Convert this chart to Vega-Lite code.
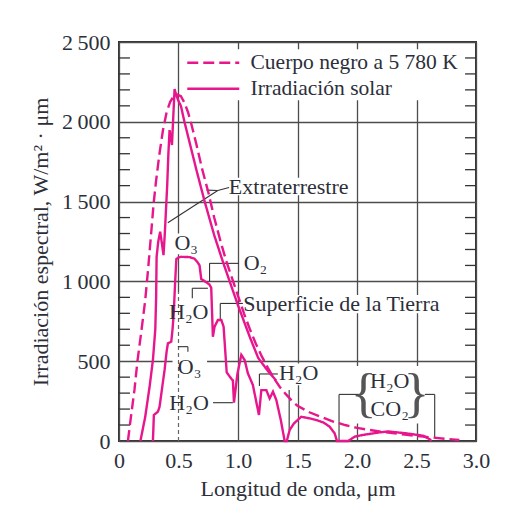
{
  "$schema": "https://vega.github.io/schema/vega-lite/v6.json",
  "width": 357,
  "height": 399,
  "autosize": {"type": "none"},
  "padding": {"left": 119, "top": 42, "right": 36, "bottom": 65},
  "background": "white",
  "config": {
    "view": {"stroke": "#333333", "strokeWidth": 2},
    "font": "Liberation Serif",
    "axis": {
      "labelFont": "Liberation Serif", "titleFont": "Liberation Serif",
      "labelFontSize": 22, "titleFontSize": 22,
      "labelColor": "#2c2f3a", "titleColor": "#2c2f3a", "titleFontWeight": "normal",
      "domain": false, "ticks": false, "labelFlush": false,
      "gridColor": "#4d4d4d", "gridWidth": 1.3, "gridOpacity": 1
    },
    "legend": {
      "orient": "none", "legendX": 60, "legendY": 6,
      "padding": 4, "labelLimit": 400,
      "labelFont": "Liberation Serif", "labelFontSize": 21.5, "labelColor": "#2c2f3a",
      "symbolType": "M-1,0H7", "symbolSize": 169, "symbolStrokeWidth": 2.5,
      "symbolStrokeColor": "#e8168c", "labelOffset": 46, "rowPadding": 3
    }
  },
  "datasets": {
    "minor": [
      {"y": 100}, {"y": 200}, {"y": 300}, {"y": 400}, {"y": 600}, {"y": 700}, {"y": 800}, {"y": 900},
      {"y": 1100}, {"y": 1200}, {"y": 1300}, {"y": 1400}, {"y": 1600}, {"y": 1700}, {"y": 1800}, {"y": 1900},
      {"y": 2100}, {"y": 2200}, {"y": 2300}, {"y": 2400}
    ],
    "boxes": [
      {"x": 0.54, "x2": 2.88, "y": 2135, "y2": 2455},
      {"x": 0.915, "x2": 1.94, "y": 1540, "y2": 1650},
      {"x": 1.04, "x2": 2.7, "y": 800, "y2": 915},
      {"x": 1.33, "x2": 1.7, "y": 350, "y2": 485},
      {"x": 1.99, "x2": 2.62, "y": 110, "y2": 470},
      {"x": 0.45, "x2": 0.74, "y": 375, "y2": 535},
      {"x": 0.4, "x2": 0.78, "y": 745, "y2": 870},
      {"x": 0.4, "x2": 0.78, "y": 175, "y2": 290},
      {"x": 0.45, "x2": 0.68, "y": 1170, "y2": 1300}
    ],
    "leaders": [
      {"x": 0.925, "y": 1588, "x2": 0.83, "y2": 1570},
      {"x": 0.83, "y": 1570, "x2": 0.735, "y2": 1572},
      {"x": 0.83, "y": 1570, "x2": 0.41, "y2": 1367},
      {"x": 0.761, "y": 1000, "x2": 0.761, "y2": 1113},
      {"x": 0.761, "y": 1113, "x2": 1.008, "y2": 1113},
      {"x": 0.616, "y": 894, "x2": 0.616, "y2": 957},
      {"x": 0.616, "y": 957, "x2": 0.747, "y2": 957},
      {"x": 0.851, "y": 758, "x2": 0.851, "y2": 862},
      {"x": 0.851, "y": 862, "x2": 1.041, "y2": 862},
      {"x": 0.495, "y": 591, "x2": 0.579, "y2": 591},
      {"x": 0.579, "y": 591, "x2": 0.579, "y2": 559},
      {"x": 0.79, "y": 240, "x2": 0.957, "y2": 240},
      {"x": 1.18, "y": 345, "x2": 1.18, "y2": 420},
      {"x": 1.18, "y": 420, "x2": 1.335, "y2": 420},
      {"x": 1.43, "y": 69, "x2": 1.43, "y2": 320},
      {"x": 1.849, "y": 0, "x2": 1.849, "y2": 292},
      {"x": 1.849, "y": 292, "x2": 2.035, "y2": 292},
      {"x": 2.57, "y": 292, "x2": 2.653, "y2": 292},
      {"x": 2.653, "y": 292, "x2": 2.653, "y2": 19}
    ],
    "labels": [
      {"x": 1.426, "y": 1591, "t": "Extraterrestre"},
      {"x": 0.565, "y": 1243, "t": "O₃"},
      {"x": 1.147, "y": 1118, "t": "O₂"},
      {"x": 0.586, "y": 810, "t": "H₂O"},
      {"x": 1.869, "y": 858, "t": "Superficie de la Tierra"},
      {"x": 0.593, "y": 465, "t": "O₃"},
      {"x": 0.589, "y": 235, "t": "H₂O"},
      {"x": 1.51, "y": 424, "t": "H₂O"},
      {"x": 2.275, "y": 377, "t": "H₂O"},
      {"x": 2.275, "y": 199, "t": "CO₂"}
    ],
    "braces": [
      {"x": 2.056, "y": 288, "t": "{"},
      {"x": 2.5, "y": 288, "t": "}"}
    ],
    "curves": [
      {"s": "bb", "t": "Cuerpo negro a 5 780 K", "x": 0.075, "y": 0},
      {"s": "bb", "t": "Cuerpo negro a 5 780 K", "x": 0.1, "y": 150},
      {"s": "bb", "t": "Cuerpo negro a 5 780 K", "x": 0.13, "y": 320},
      {"s": "bb", "t": "Cuerpo negro a 5 780 K", "x": 0.155, "y": 500},
      {"s": "bb", "t": "Cuerpo negro a 5 780 K", "x": 0.19, "y": 700},
      {"s": "bb", "t": "Cuerpo negro a 5 780 K", "x": 0.22, "y": 880},
      {"s": "bb", "t": "Cuerpo negro a 5 780 K", "x": 0.245, "y": 1080},
      {"s": "bb", "t": "Cuerpo negro a 5 780 K", "x": 0.27, "y": 1300},
      {"s": "bb", "t": "Cuerpo negro a 5 780 K", "x": 0.29, "y": 1480},
      {"s": "bb", "t": "Cuerpo negro a 5 780 K", "x": 0.31, "y": 1620},
      {"s": "bb", "t": "Cuerpo negro a 5 780 K", "x": 0.34, "y": 1800},
      {"s": "bb", "t": "Cuerpo negro a 5 780 K", "x": 0.37, "y": 1950},
      {"s": "bb", "t": "Cuerpo negro a 5 780 K", "x": 0.4, "y": 2060},
      {"s": "bb", "t": "Cuerpo negro a 5 780 K", "x": 0.43, "y": 2125},
      {"s": "bb", "t": "Cuerpo negro a 5 780 K", "x": 0.46, "y": 2160},
      {"s": "bb", "t": "Cuerpo negro a 5 780 K", "x": 0.49, "y": 2170},
      {"s": "bb", "t": "Cuerpo negro a 5 780 K", "x": 0.52, "y": 2160},
      {"s": "bb", "t": "Cuerpo negro a 5 780 K", "x": 0.55, "y": 2120},
      {"s": "bb", "t": "Cuerpo negro a 5 780 K", "x": 0.58, "y": 2060},
      {"s": "bb", "t": "Cuerpo negro a 5 780 K", "x": 0.61, "y": 1980},
      {"s": "bb", "t": "Cuerpo negro a 5 780 K", "x": 0.65, "y": 1860},
      {"s": "bb", "t": "Cuerpo negro a 5 780 K", "x": 0.7, "y": 1700},
      {"s": "bb", "t": "Cuerpo negro a 5 780 K", "x": 0.75, "y": 1560},
      {"s": "bb", "t": "Cuerpo negro a 5 780 K", "x": 0.8, "y": 1400},
      {"s": "bb", "t": "Cuerpo negro a 5 780 K", "x": 0.85, "y": 1260},
      {"s": "bb", "t": "Cuerpo negro a 5 780 K", "x": 0.9, "y": 1130},
      {"s": "bb", "t": "Cuerpo negro a 5 780 K", "x": 0.95, "y": 1020},
      {"s": "bb", "t": "Cuerpo negro a 5 780 K", "x": 1.0, "y": 910},
      {"s": "bb", "t": "Cuerpo negro a 5 780 K", "x": 1.05, "y": 800},
      {"s": "bb", "t": "Cuerpo negro a 5 780 K", "x": 1.1, "y": 700},
      {"s": "bb", "t": "Cuerpo negro a 5 780 K", "x": 1.15, "y": 610},
      {"s": "bb", "t": "Cuerpo negro a 5 780 K", "x": 1.2, "y": 530},
      {"s": "bb", "t": "Cuerpo negro a 5 780 K", "x": 1.25, "y": 460},
      {"s": "bb", "t": "Cuerpo negro a 5 780 K", "x": 1.3, "y": 395},
      {"s": "bb", "t": "Cuerpo negro a 5 780 K", "x": 1.35, "y": 340},
      {"s": "bb", "t": "Cuerpo negro a 5 780 K", "x": 1.4, "y": 295},
      {"s": "bb", "t": "Cuerpo negro a 5 780 K", "x": 1.45, "y": 255},
      {"s": "bb", "t": "Cuerpo negro a 5 780 K", "x": 1.5, "y": 220},
      {"s": "bb", "t": "Cuerpo negro a 5 780 K", "x": 1.6, "y": 180},
      {"s": "bb", "t": "Cuerpo negro a 5 780 K", "x": 1.7, "y": 150},
      {"s": "bb", "t": "Cuerpo negro a 5 780 K", "x": 1.8, "y": 122},
      {"s": "bb", "t": "Cuerpo negro a 5 780 K", "x": 1.9, "y": 100},
      {"s": "bb", "t": "Cuerpo negro a 5 780 K", "x": 2.0, "y": 82},
      {"s": "bb", "t": "Cuerpo negro a 5 780 K", "x": 2.2, "y": 58},
      {"s": "bb", "t": "Cuerpo negro a 5 780 K", "x": 2.4, "y": 40},
      {"s": "bb", "t": "Cuerpo negro a 5 780 K", "x": 2.6, "y": 24},
      {"s": "bb", "t": "Cuerpo negro a 5 780 K", "x": 2.8, "y": 10},
      {"s": "bb", "t": "Cuerpo negro a 5 780 K", "x": 2.86, "y": 6},

      {"s": "ext", "t": "Irradiación solar", "x": 0.18, "y": 0},
      {"s": "ext", "t": "Irradiación solar", "x": 0.22, "y": 150},
      {"s": "ext", "t": "Irradiación solar", "x": 0.257, "y": 340},
      {"s": "ext", "t": "Irradiación solar", "x": 0.285, "y": 507},
      {"s": "ext", "t": "Irradiación solar", "x": 0.305, "y": 700},
      {"s": "ext", "t": "Irradiación solar", "x": 0.312, "y": 900},
      {"s": "ext", "t": "Irradiación solar", "x": 0.316, "y": 1154},
      {"s": "ext", "t": "Irradiación solar", "x": 0.33, "y": 1250},
      {"s": "ext", "t": "Irradiación solar", "x": 0.346, "y": 1311},
      {"s": "ext", "t": "Irradiación solar", "x": 0.362, "y": 1230},
      {"s": "ext", "t": "Irradiación solar", "x": 0.374, "y": 1165},
      {"s": "ext", "t": "Irradiación solar", "x": 0.385, "y": 1300},
      {"s": "ext", "t": "Irradiación solar", "x": 0.395, "y": 1450},
      {"s": "ext", "t": "Irradiación solar", "x": 0.405, "y": 1600},
      {"s": "ext", "t": "Irradiación solar", "x": 0.415, "y": 1800},
      {"s": "ext", "t": "Irradiación solar", "x": 0.425, "y": 1948},
      {"s": "ext", "t": "Irradiación solar", "x": 0.445, "y": 1855},
      {"s": "ext", "t": "Irradiación solar", "x": 0.467, "y": 2205},
      {"s": "ext", "t": "Irradiación solar", "x": 0.48, "y": 2170},
      {"s": "ext", "t": "Irradiación solar", "x": 0.5, "y": 2130},
      {"s": "ext", "t": "Irradiación solar", "x": 0.52, "y": 2100},
      {"s": "ext", "t": "Irradiación solar", "x": 0.55, "y": 2000},
      {"s": "ext", "t": "Irradiación solar", "x": 0.6, "y": 1850},
      {"s": "ext", "t": "Irradiación solar", "x": 0.65, "y": 1700},
      {"s": "ext", "t": "Irradiación solar", "x": 0.72, "y": 1500},
      {"s": "ext", "t": "Irradiación solar", "x": 0.8, "y": 1290},
      {"s": "ext", "t": "Irradiación solar", "x": 0.87, "y": 1130},
      {"s": "ext", "t": "Irradiación solar", "x": 0.93, "y": 1000},
      {"s": "ext", "t": "Irradiación solar", "x": 1.0, "y": 850},
      {"s": "ext", "t": "Irradiación solar", "x": 1.1, "y": 650},
      {"s": "ext", "t": "Irradiación solar", "x": 1.17, "y": 520},
      {"s": "ext", "t": "Irradiación solar", "x": 1.25, "y": 440},
      {"s": "ext", "t": "Irradiación solar", "x": 1.32, "y": 380},

      {"s": "sup", "t": "Irradiación solar", "x": 0.285, "y": 0},
      {"s": "sup", "t": "Irradiación solar", "x": 0.29, "y": 100},
      {"s": "sup", "t": "Irradiación solar", "x": 0.293, "y": 163},
      {"s": "sup", "t": "Irradiación solar", "x": 0.327, "y": 184},
      {"s": "sup", "t": "Irradiación solar", "x": 0.341, "y": 215},
      {"s": "sup", "t": "Irradiación solar", "x": 0.36, "y": 320},
      {"s": "sup", "t": "Irradiación solar", "x": 0.383, "y": 445},
      {"s": "sup", "t": "Irradiación solar", "x": 0.4, "y": 560},
      {"s": "sup", "t": "Irradiación solar", "x": 0.411, "y": 612},
      {"s": "sup", "t": "Irradiación solar", "x": 0.439, "y": 622},
      {"s": "sup", "t": "Irradiación solar", "x": 0.45, "y": 700},
      {"s": "sup", "t": "Irradiación solar", "x": 0.46, "y": 800},
      {"s": "sup", "t": "Irradiación solar", "x": 0.472, "y": 1000},
      {"s": "sup", "t": "Irradiación solar", "x": 0.482, "y": 1140},
      {"s": "sup", "t": "Irradiación solar", "x": 0.5, "y": 1150},
      {"s": "sup", "t": "Irradiación solar", "x": 0.523, "y": 1154},
      {"s": "sup", "t": "Irradiación solar", "x": 0.593, "y": 1152},
      {"s": "sup", "t": "Irradiación solar", "x": 0.635, "y": 1142},
      {"s": "sup", "t": "Irradiación solar", "x": 0.66, "y": 1120},
      {"s": "sup", "t": "Irradiación solar", "x": 0.677, "y": 1100},
      {"s": "sup", "t": "Irradiación solar", "x": 0.691, "y": 1015},
      {"s": "sup", "t": "Irradiación solar", "x": 0.733, "y": 995},
      {"s": "sup", "t": "Irradiación solar", "x": 0.76, "y": 980},
      {"s": "sup", "t": "Irradiación solar", "x": 0.775, "y": 960},
      {"s": "sup", "t": "Irradiación solar", "x": 0.789, "y": 653},
      {"s": "sup", "t": "Irradiación solar", "x": 0.803, "y": 716},
      {"s": "sup", "t": "Irradiación solar", "x": 0.831, "y": 758},
      {"s": "sup", "t": "Irradiación solar", "x": 0.86, "y": 758},
      {"s": "sup", "t": "Irradiación solar", "x": 0.879, "y": 716},
      {"s": "sup", "t": "Irradiación solar", "x": 0.905, "y": 430},
      {"s": "sup", "t": "Irradiación solar", "x": 0.944, "y": 390},
      {"s": "sup", "t": "Irradiación solar", "x": 0.957, "y": 380},
      {"s": "sup", "t": "Irradiación solar", "x": 0.966, "y": 240},
      {"s": "sup", "t": "Irradiación solar", "x": 0.995, "y": 420},
      {"s": "sup", "t": "Irradiación solar", "x": 1.028, "y": 540},
      {"s": "sup", "t": "Irradiación solar", "x": 1.056, "y": 507},
      {"s": "sup", "t": "Irradiación solar", "x": 1.083, "y": 424},
      {"s": "sup", "t": "Irradiación solar", "x": 1.125, "y": 351},
      {"s": "sup", "t": "Irradiación solar", "x": 1.176, "y": 163},
      {"s": "sup", "t": "Irradiación solar", "x": 1.196, "y": 319},
      {"s": "sup", "t": "Irradiación solar", "x": 1.238, "y": 319},
      {"s": "sup", "t": "Irradiación solar", "x": 1.266, "y": 267},
      {"s": "sup", "t": "Irradiación solar", "x": 1.294, "y": 309},
      {"s": "sup", "t": "Irradiación solar", "x": 1.322, "y": 257},
      {"s": "sup", "t": "Irradiación solar", "x": 1.36, "y": 130},
      {"s": "sup", "t": "Irradiación solar", "x": 1.392, "y": 0},
      {"s": "sup", "t": "Irradiación solar", "x": 1.41, "y": 0},
      {"s": "sup", "t": "Irradiación solar", "x": 1.434, "y": 69},
      {"s": "sup", "t": "Irradiación solar", "x": 1.47, "y": 110},
      {"s": "sup", "t": "Irradiación solar", "x": 1.532, "y": 152},
      {"s": "sup", "t": "Irradiación solar", "x": 1.6, "y": 142},
      {"s": "sup", "t": "Irradiación solar", "x": 1.659, "y": 131},
      {"s": "sup", "t": "Irradiación solar", "x": 1.72, "y": 115},
      {"s": "sup", "t": "Irradiación solar", "x": 1.77, "y": 90},
      {"s": "sup", "t": "Irradiación solar", "x": 1.812, "y": 48},
      {"s": "sup", "t": "Irradiación solar", "x": 1.832, "y": 0},
      {"s": "sup", "t": "Irradiación solar", "x": 1.925, "y": 0},
      {"s": "sup", "t": "Irradiación solar", "x": 1.981, "y": 27},
      {"s": "sup", "t": "Irradiación solar", "x": 2.05, "y": 38},
      {"s": "sup", "t": "Irradiación solar", "x": 2.19, "y": 54},
      {"s": "sup", "t": "Irradiación solar", "x": 2.26, "y": 60},
      {"s": "sup", "t": "Irradiación solar", "x": 2.415, "y": 48},
      {"s": "sup", "t": "Irradiación solar", "x": 2.555, "y": 33},
      {"s": "sup", "t": "Irradiación solar", "x": 2.611, "y": 11},
      {"s": "sup", "t": "Irradiación solar", "x": 2.625, "y": 0}
    ]
  },
  "layer": [
    {
      "data": {"name": "minor"},
      "mark": {"type": "rule", "color": "#333333", "strokeWidth": 1.3},
      "encoding": {
        "x": {"datum": 0, "type": "quantitative", "scale": {"domain": [0, 3], "nice": false, "zero": false},
          "axis": {"values": [0, 0.5, 1, 1.5, 2, 2.5, 3], "title": "Longitud de onda, μm",
            "labelExpr": "datum.value == 0 ? '0' : format(datum.value, '.1f')",
            "grid": true, "gridColor": {"condition": {"test": "datum.value == 0.5", "value": "transparent"}, "value": "#4d4d4d"},
            "labelPadding": 9, "titlePadding": 7}},
        "x2": {"datum": 0.092},
        "y": {"field": "y", "type": "quantitative", "scale": {"domain": [0, 2500], "nice": false},
          "axis": {"values": [0, 500, 1000, 1500, 2000, 2500], "title": "Irradiación espectral, W/m² · μm",
            "labelExpr": "datum.value >= 1000 ? replace(format(datum.value, ','), ',', '\u2009') : datum.label",
            "grid": true, "labelPadding": 9, "titlePadding": 9}}
      }
    },
    {
      "data": {"name": "minor"},
      "mark": {"type": "rule", "color": "#333333", "strokeWidth": 1.3},
      "encoding": {
        "x": {"datum": 2.908, "type": "quantitative"},
        "x2": {"datum": 3},
        "y": {"field": "y", "type": "quantitative"}
      }
    },
    {
      "data": {"name": "boxes"},
      "mark": {"type": "rect", "color": "white"},
      "encoding": {
        "x": {"field": "x", "type": "quantitative"},
        "x2": {"field": "x2"},
        "y": {"field": "y", "type": "quantitative"},
        "y2": {"field": "y2"}
      }
    },
    {
      "data": {"values": [{}]},
      "mark": {"type": "rule", "color": "#4d4d4d", "strokeWidth": 1.3},
      "encoding": {
        "x": {"datum": 0.5, "type": "quantitative"},
        "y": {"datum": 1300, "type": "quantitative"},
        "y2": {"datum": 2500}
      }
    },
    {
      "data": {"values": [{}]},
      "mark": {"type": "rule", "color": "#666666", "strokeWidth": 1.2, "strokeDash": [4, 3]},
      "encoding": {
        "x": {"datum": 0.5, "type": "quantitative"},
        "y": {"datum": 0, "type": "quantitative"},
        "y2": {"datum": 930}
      }
    },
    {
      "data": {"values": [{}]},
      "mark": {"type": "rule", "color": "#4d4d4d", "strokeWidth": 1.3},
      "encoding": {
        "x": {"datum": 0.5, "type": "quantitative"},
        "y": {"datum": 930, "type": "quantitative"},
        "y2": {"datum": 1170}
      }
    },
    {
      "data": {"name": "leaders"},
      "mark": {"type": "rule", "color": "#333333", "strokeWidth": 1.1},
      "encoding": {
        "x": {"field": "x", "type": "quantitative"},
        "x2": {"field": "x2"},
        "y": {"field": "y", "type": "quantitative"},
        "y2": {"field": "y2"}
      }
    },
    {
      "data": {"name": "curves"},
      "mark": {"type": "line", "color": "#e8168c", "strokeWidth": 2.4},
      "encoding": {
        "x": {"field": "x", "type": "quantitative"},
        "y": {"field": "y", "type": "quantitative"},
        "detail": {"field": "s"},
        "strokeDash": {"field": "t", "type": "nominal",
          "scale": {"domain": ["Cuerpo negro a 5 780 K", "Irradiación solar"], "range": [[11, 5], [1, 0]]},
          "legend": {"title": null}}
      }
    },
    {
      "data": {"name": "labels"},
      "mark": {"type": "text", "font": "Liberation Serif", "fontSize": 22, "color": "#2c2f3a", "align": "center", "baseline": "middle"},
      "encoding": {
        "x": {"field": "x", "type": "quantitative"},
        "y": {"field": "y", "type": "quantitative"},
        "text": {"field": "t"}
      }
    },
    {
      "data": {"name": "braces"},
      "mark": {"type": "text", "font": "Liberation Serif", "fontSize": 54, "color": "#555555", "align": "center", "baseline": "middle"},
      "encoding": {
        "x": {"field": "x", "type": "quantitative"},
        "y": {"field": "y", "type": "quantitative"},
        "text": {"field": "t"}
      }
    }
  ]
}
